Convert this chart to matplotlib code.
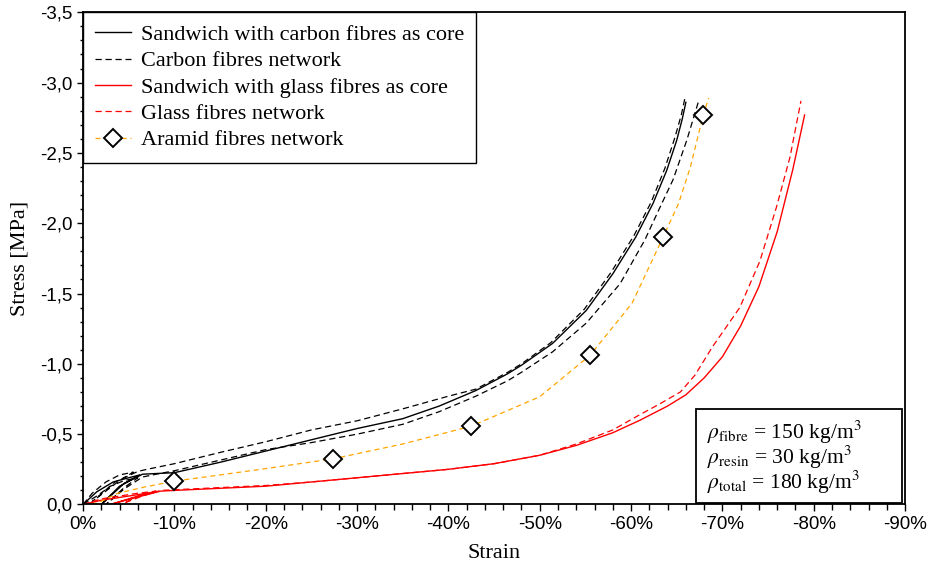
import matplotlib
matplotlib.use("Agg")
import matplotlib.pyplot as plt
from matplotlib.ticker import MultipleLocator, FuncFormatter
from matplotlib.patches import Rectangle

plt.rcParams['mathtext.fontset'] = 'stix'

# ---------------- data (strain in %, stress in MPa, both compressive -> negative) ----------------
carbon_sandwich_strain = [0, 1.5, 3.3, 5.0, 6.2, 4.5, 2.0, 4.0, 6.5, 8, 10, 15, 20, 25, 30, 35, 39, 43, 46.5, 48,
                          51.4, 55.1, 58, 60.5, 62.4, 63.9, 65.0, 65.6, 66.0]
carbon_sandwich_stress = [0, 0.09, 0.16, 0.19, 0.21, 0.15, 0.0, 0.13, 0.215, 0.22, 0.226, 0.30, 0.38, 0.46, 0.54,
                          0.61, 0.70, 0.81, 0.93, 0.99, 1.145, 1.38, 1.64, 1.90, 2.14, 2.375, 2.59, 2.74, 2.86]

carbon_net_a_strain = [0, 1, 2.5, 4, 5.5, 4.0, 1.0, 3.5, 6.0, 7, 10, 15, 20, 25, 30, 35, 40, 43, 46.5, 48,
                       51.2, 54.9, 57.8, 60.3, 62.2, 63.7, 64.8, 65.5, 65.9]
carbon_net_a_stress = [0, 0.08, 0.16, 0.21, 0.23, 0.17, 0.02, 0.16, 0.235, 0.25, 0.29, 0.37, 0.446, 0.53, 0.595,
                       0.68, 0.77, 0.82, 0.94, 1.00, 1.15, 1.39, 1.65, 1.91, 2.15, 2.39, 2.61, 2.77, 2.89]

carbon_net_b_strain = [0, 1.5, 3, 4.5, 6, 4.5, 2.5, 4.5, 6.5, 8, 10, 15, 20, 25, 30, 35, 39, 43, 46.5, 48,
                       51.4, 55.1, 58.8, 60.8, 61.5, 63.0, 64.6, 66.1, 67.4]
carbon_net_b_stress = [0, 0.06, 0.13, 0.17, 0.19, 0.12, 0.0, 0.11, 0.195, 0.215, 0.24, 0.315, 0.39, 0.44, 0.50,
                       0.57, 0.66, 0.77, 0.88, 0.94, 1.085, 1.29, 1.57, 1.80, 1.88, 2.09, 2.31, 2.59, 2.87]

glass_sandwich_strain = [0, 2, 4, 6, 8, 5.5, 3.0, 5.5, 8.5, 10, 15, 20, 25, 30, 35, 40, 45, 50, 54, 58, 61, 64,
                         66, 68, 70, 72, 74, 76, 77.7, 79]
glass_sandwich_stress = [0, 0.03, 0.05, 0.07, 0.09, 0.05, 0.0, 0.045, 0.095, 0.10, 0.115, 0.13, 0.16, 0.19, 0.22,
                         0.25, 0.29, 0.35, 0.42, 0.51, 0.60, 0.70, 0.78, 0.90, 1.05, 1.27, 1.55, 1.94, 2.38, 2.77]

glass_net_strain = [0, 2, 4, 6, 8, 6.0, 4.5, 6.5, 8.5, 10, 15, 20, 25, 30, 35, 40, 45, 50, 54, 58, 61, 63,
                    65.4, 67, 68.9, 71.9, 74.1, 75.9, 77.4, 78.6]
glass_net_stress = [0, 0.04, 0.06, 0.08, 0.095, 0.06, 0.01, 0.06, 0.10, 0.105, 0.12, 0.135, 0.16, 0.19, 0.22,
                    0.25, 0.29, 0.35, 0.43, 0.53, 0.64, 0.71, 0.80, 0.92, 1.12, 1.40, 1.73, 2.11, 2.47, 2.87]

aramid_strain = [0, 1.6, 3.8, 6.8, 10, 15, 20, 27.4, 35, 42.5, 50, 55.5, 60.1, 63.5, 65.2, 66.5, 67.9, 68.5]
aramid_stress = [0, 0.01, 0.08, 0.125, 0.166, 0.21, 0.255, 0.325, 0.43, 0.557, 0.766, 1.06, 1.43, 1.90, 2.14,
                 2.40, 2.77, 2.89]
aramid_marker_strain = [10, 27.4, 42.5, 55.5, 63.5, 67.9]
aramid_marker_stress = [0.166, 0.325, 0.557, 1.06, 1.90, 2.77]

labels = ["Sandwich with carbon fibres as core", "Carbon fibres network",
          "Sandwich with glass fibres as core", "Glass fibres network", "Aramid fibres network"]
density_lines = [r"$\rho_{\mathrm{fibre}}$ = 150 kg/m$^{3}$",
                 r"$\rho_{\mathrm{resin}}$ = 30 kg/m$^{3}$",
                 r"$\rho_{\mathrm{total}}$ = 180 kg/m$^{3}$"]


def neg(v):
    return [-x for x in v]


fig = plt.figure(figsize=(9.35, 5.66), dpi=100)
ax = fig.add_axes([0.0888, 0.1087, 0.8792, 0.8696])

ORANGE = '#FFA500'
ax.plot(neg(carbon_sandwich_strain), neg(carbon_sandwich_stress), color='black', lw=1.0, label=labels[0])
ax.plot(neg(carbon_net_a_strain), neg(carbon_net_a_stress), color='black', lw=0.9, ls=(0, (5, 3)),
        label=labels[1])
ax.plot(neg(carbon_net_b_strain), neg(carbon_net_b_stress), color='black', lw=0.9, ls=(0, (5, 3)))
ax.plot(neg(glass_sandwich_strain), neg(glass_sandwich_stress), color='#FF0000', lw=1.0, label=labels[2])
ax.plot(neg(glass_net_strain), neg(glass_net_stress), color='#FF0000', lw=0.9, ls=(0, (5, 3)),
        label=labels[3])
ax.plot(neg(aramid_strain), neg(aramid_stress), color=ORANGE, lw=0.9, ls=(0, (4, 3)))
ax.plot(neg(aramid_marker_strain), neg(aramid_marker_stress), ls='none', marker='D', ms=9.5,
        mfc='white', mec='black', mew=1.4)
# legend proxy for aramid
ax.plot([], [], color=ORANGE, lw=0.9, ls=(0, (4, 3)), marker='D', ms=9.5,
        mfc='white', mec='black', mew=1.4, label=labels[4])

ax.set_xlim(0, -90)
ax.set_ylim(0, -3.5)

ax.xaxis.set_major_locator(MultipleLocator(10))
ax.xaxis.set_minor_locator(MultipleLocator(2))
ax.yaxis.set_major_locator(MultipleLocator(0.5))
ax.yaxis.set_minor_locator(MultipleLocator(0.1))


def xfmt(v, p):
    iv = int(round(v))
    return "0%" if iv == 0 else f"{iv}%"


def yfmt(v, p):
    if abs(v) < 1e-9:
        return "0,0"
    return f"{v:.1f}".replace('.', ',')


ax.xaxis.set_major_formatter(FuncFormatter(xfmt))
ax.yaxis.set_major_formatter(FuncFormatter(yfmt))

ax.tick_params(axis='both', which='both', direction='out', top=False, right=False, width=1.0)
ax.tick_params(axis='x', which='major', length=5, pad=3)
ax.tick_params(axis='x', which='minor', length=4)
ax.tick_params(axis='y', which='major', length=4.5, pad=3)
ax.tick_params(axis='y', which='minor', length=2.5)
for lab in ax.get_xticklabels() + ax.get_yticklabels():
    lab.set_fontfamily('Liberation Sans')
    lab.set_fontsize(13.5)

for s in ax.spines.values():
    s.set_linewidth(1.3)

ax.set_xlabel("Strain", fontfamily='Liberation Serif', fontsize=16, labelpad=8)
ax.set_ylabel("Stress [MPa]", fontfamily='Liberation Serif', fontsize=16, labelpad=8)

leg = ax.legend(loc='upper left', bbox_to_anchor=(0, 1), borderaxespad=0, fancybox=False,
                framealpha=1, edgecolor='black', prop={'family': 'Liberation Serif', 'size': 16},
                handlelength=1.6, handletextpad=0.45, labelspacing=0.26, borderpad=0.55)
leg.get_frame().set_linewidth(1.0)

# density info box
ax.add_patch(Rectangle((0.7457, 0.003), 0.2507, 0.191, transform=ax.transAxes, fill=True,
                       facecolor='white', edgecolor='black', lw=1.3, zorder=5))
for i, t in enumerate(density_lines):
    ax.text(0.7595, 0.147 - i * 0.051, t, transform=ax.transAxes, fontsize=15.5,
            fontfamily='Liberation Serif', va='center', ha='left', zorder=6)

fig.savefig("out.png", dpi=100)
